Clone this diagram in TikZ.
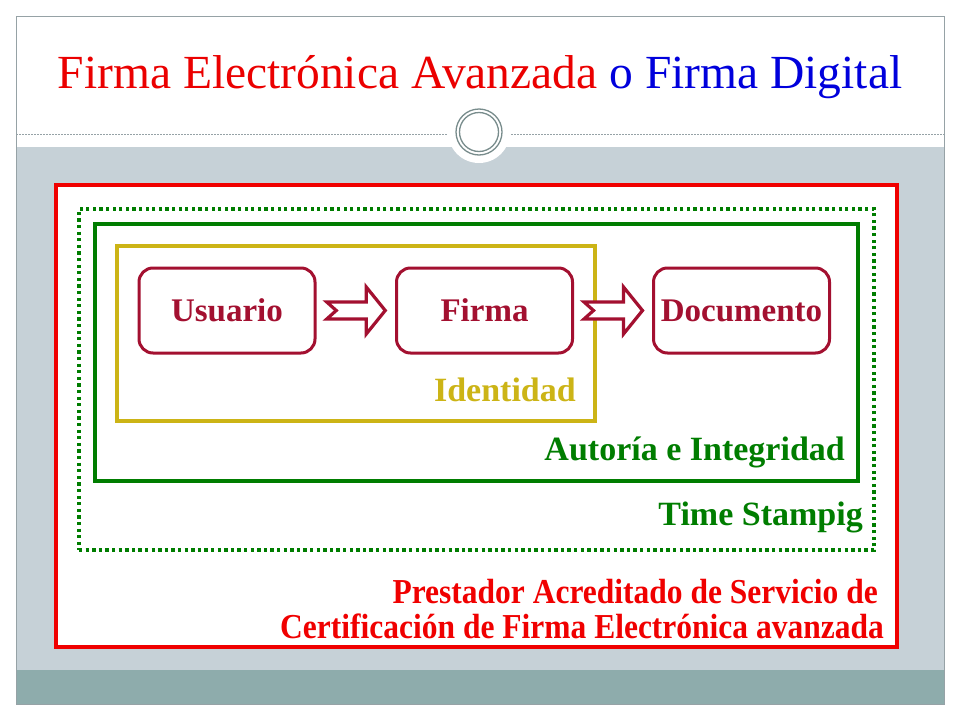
\documentclass[tikz,border=0pt]{standalone}
\usepackage{fontspec}
\setmainfont{Liberation Serif}
\usetikzlibrary{calc}
\definecolor{bandgray}{RGB}{198,209,215}
\definecolor{bandteal}{RGB}{142,172,172}
\definecolor{framegray}{RGB}{150,162,166}
\definecolor{ringgray}{RGB}{120,140,140}
\definecolor{boxred}{RGB}{163,16,48}
\definecolor{idolive}{RGB}{204,180,22}
\definecolor{autgreen}{RGB}{0,125,0}
\definecolor{certred}{RGB}{240,0,0}
\definecolor{titlered}{RGB}{235,0,0}
\definecolor{titleblue}{RGB}{0,0,220}
\tikzset{
  flowbox/.style={draw=boxred, line width=3pt, rounded corners=14pt, fill=white,
    minimum width=176pt, minimum height=85pt, inner sep=0pt,
    text=boxred, font=\fontsize{33}{36}\selectfont\bfseries},
  framebox/.style={inner sep=0pt, fill=none},
  lbl/.style={anchor=base east, inner sep=0pt, font=\fontsize{34}{38}\selectfont\bfseries},
  certlbl/.style={anchor=base east, inner sep=0pt, text=certred, font=\fontsize{35}{38}\selectfont\bfseries},
  hollowarrow/.pic={
    \draw[boxred, line width=3.2pt, fill=white, line join=miter]
      (-29,-8.5) -- (10.5,-8.5) -- (10.5,-23.5) -- (29.5,0) -- (10.5,23.5) -- (10.5,8.5)
      -- (-29,8.5) -- (-19.5,0) -- cycle;
  }
}
\begin{document}
\begin{tikzpicture}[x=1pt,y=-1pt]
\useasboundingbox (0,0) rectangle (960,720);
\fill[white] (0,0) rectangle (960,720);
% slide background
\fill[bandgray] (16,147) rectangle (944,670);
\fill[bandteal] (16,670) rectangle (944,704);
\draw[framegray, line width=1pt] (16,16) rectangle (944,704);
\draw[framegray, line width=0.6pt, dash pattern=on 2pt off 1pt] (16,134) -- (944,134);
\fill[white] (479,132) circle (31);
\draw[ringgray, line width=1.3pt] (479,132) circle (23);
\draw[ringgray, line width=1.3pt] (479,132) circle (19.5);
% title
\node[inner sep=0pt, anchor=base, font=\fontsize{47.5}{50}\selectfont] (title) at (480,88)
  {\textcolor{titlered}{Firma Electrónica Avanzada} \textcolor{titleblue}{o Firma Digital}};
% nested frames
\node[framebox, draw=certred, fill=white, line width=4pt, minimum width=841pt, minimum height=462pt] (cert) at (476.5,416) {};
\node[framebox, draw=autgreen, line width=3.3pt, dash pattern=on 3.3pt off 3.3pt, minimum width=795pt, minimum height=341pt] (time) at (476.5,379.5) {};
\node[framebox, draw=autgreen, line width=3.5pt, minimum width=763pt, minimum height=257pt] (aut) at (476.5,352.5) {};
\node[framebox, draw=idolive, line width=3.5pt, minimum width=478pt, minimum height=175pt] (iden) at (356,333.5) {};
% flow
\node[flowbox] (usuario) at (227,310.5) {Usuario};
\node[flowbox] (firma) at (484.5,310.5) {Firma};
\node[flowbox] (documento) at (741.5,310.5) {Documento};
\pic at ($(usuario.east)!0.5!(firma.west)$) {hollowarrow};
\pic at ($(firma.east)!0.5!(documento.west)$) {hollowarrow};
% labels
\node[lbl, text=idolive] (lid) at (576,401) {Identidad};
\node[lbl, text=autgreen] (laut) at (845,460) {Autoría e Integridad};
\node[lbl, text=autgreen] (ltime) at (863,525) {Time Stampig};
\node[certlbl] (lcert1) at (878,603) {\scalebox{0.9}[1]{Prestador Acreditado de Servicio de}};
\node[certlbl] (lcert2) at (884,638) {\scalebox{0.9}[1]{Certificación de Firma Electrónica avanzada}};
\end{tikzpicture}
\end{document}
